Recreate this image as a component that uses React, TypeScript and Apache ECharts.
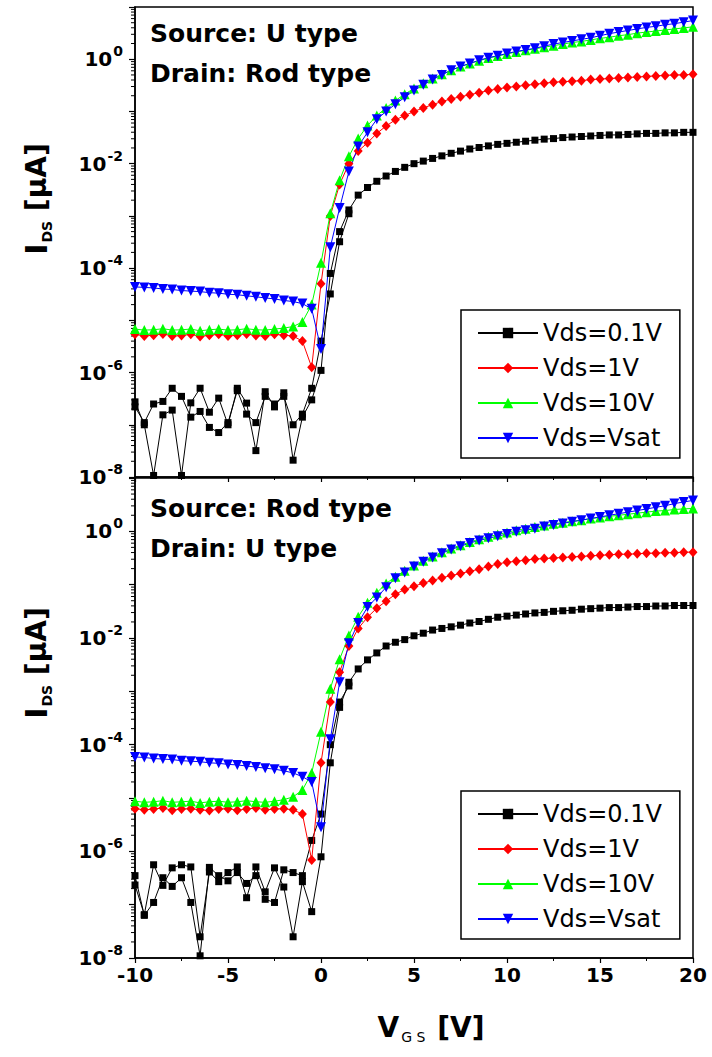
import React, { useEffect, useRef } from "react";
import * as echarts from "echarts";

const vgs = [
  -10, -9.5, -9, -8.5, -8, -7.5, -7, -6.5, -6, -5.5,
  -5, -4.5, -4, -3.5, -3, -2.5, -2, -1.5, -1, -0.5,
  0, 0.5, 1, 1.5, 2, 2.5, 3, 3.5, 4, 4.5,
  5, 5.5, 6, 6.5, 7, 7.5, 8, 8.5, 9, 9.5,
  10, 10.5, 11, 11.5, 12, 12.5, 13, 13.5, 14, 14.5,
  15, 15.5, 16, 16.5, 17, 17.5, 18, 18.5, 19, 19.5,
  20,
];
const vgsReverse = [
  -10, -9.5, -9, -8.5, -8, -7.5, -7, -6.5, -6, -5.5,
  -5, -4.5, -4, -3.5, -3, -2.5, -2, -1.5, -1, -0.5,
  0, 0.5, 1, 1.5,
];

const seriesNames = ["Vds=0.1V", "Vds=1V", "Vds=10V", "Vds=Vsat"];
const xTicks = { min: -10, max: 20, step: 5 };

// Top panel: Source U type / Drain Rod type
const topBlack = [
  2.75e-7, 1.0e-7, 1.07e-8, 1.55e-7, 1.91e-7, 1.07e-8, 2.63e-7, 5.01e-7, 1.74e-7, 3.24e-7,
  1.0e-7, 5.0e-7, 2.6e-7, 3.2e-8, 4.3e-7, 2.2e-7, 4.1e-7, 2.1e-8, 1.4e-7, 3.0e-7,
  1.1e-6, 7.9e-5, 5.0e-4, 1.3e-3, 2.5e-3, 3.5e-3, 4.6e-3, 5.8e-3, 7.1e-3, 8.5e-3,
  1.0e-2, 1.12e-2, 1.26e-2, 1.41e-2, 1.58e-2, 1.74e-2, 1.91e-2, 2.04e-2, 2.19e-2, 2.34e-2,
  2.45e-2, 2.57e-2, 2.69e-2, 2.82e-2, 2.95e-2, 3.02e-2, 3.16e-2, 3.24e-2, 3.31e-2, 3.39e-2,
  3.47e-2, 3.55e-2, 3.55e-2, 3.63e-2, 3.72e-2, 3.8e-2, 3.8e-2, 3.89e-2, 3.89e-2, 3.98e-2,
  3.98e-2,
];
const topBlackReverse = [
  2.2e-7, 1.1e-7, 2.5e-7, 2.8e-7, 5.0e-7, 3.5e-7, 1.4e-7, 1.8e-7, 8.9e-8, 7.1e-8,
  1.1e-7, 4.5e-7, 1.6e-7, 1.1e-7, 3.5e-7, 2.5e-7, 3.5e-7, 1.0e-7, 1.6e-7, 5.0e-7,
  4.0e-6, 3.2e-5, 3.2e-4, 1.1e-3,
];
const topRed = [
  5.4e-6, 5.0e-6, 5.2e-6, 5.5e-6, 5.0e-6, 5.1e-6, 5.4e-6, 4.9e-6, 5.2e-6, 5.4e-6,
  5.0e-6, 5.2e-6, 5.5e-6, 5.1e-6, 5.0e-6, 5.4e-6, 5.2e-6, 5.0e-6, 4.0e-6, 1.26e-6,
  5.0e-5, 1.0e-3, 4.0e-3, 1.0e-2, 1.74e-2, 2.51e-2, 3.8e-2, 5.25e-2, 6.92e-2, 8.32e-2,
  0.1, 0.117, 0.135, 0.155, 0.174, 0.191, 0.209, 0.229, 0.251, 0.269,
  0.288, 0.302, 0.316, 0.331, 0.347, 0.363, 0.372, 0.38, 0.389, 0.407,
  0.417, 0.427, 0.437, 0.447, 0.457, 0.468, 0.479, 0.49, 0.501, 0.501,
  0.513,
];
const topGreen = [
  6.8e-6, 6.5e-6, 6.6e-6, 6.9e-6, 6.5e-6, 6.6e-6, 6.8e-6, 6.3e-6, 6.6e-6, 6.8e-6,
  6.5e-6, 6.6e-6, 6.9e-6, 6.6e-6, 6.5e-6, 6.8e-6, 7.1e-6, 7.6e-6, 9.3e-6, 2.0e-5,
  1.26e-4, 1.12e-3, 4.79e-3, 1.38e-2, 3.02e-2, 5.37e-2, 8.32e-2, 0.117, 0.162, 0.214,
  0.275, 0.347, 0.427, 0.513, 0.617, 0.724, 0.832, 0.933, 1.05, 1.15,
  1.26, 1.38, 1.48, 1.58, 1.7, 1.82, 1.95, 2.09, 2.19, 2.34,
  2.51, 2.63, 2.82, 2.95, 3.16, 3.31, 3.47, 3.63, 3.8, 3.98,
  4.17,
];
const topBlue = [
  4.37e-5, 4.27e-5, 4.17e-5, 3.98e-5, 3.89e-5, 3.72e-5, 3.63e-5, 3.55e-5, 3.39e-5, 3.31e-5,
  3.16e-5, 3.09e-5, 2.95e-5, 2.82e-5, 2.69e-5, 2.57e-5, 2.4e-5, 2.29e-5, 2.09e-5, 1.66e-5,
  2.82e-6, 2.51e-4, 1.41e-3, 7.08e-3, 2.14e-2, 3.98e-2, 7.08e-2, 0.1, 0.138, 0.186,
  0.251, 0.324, 0.407, 0.501, 0.617, 0.724, 0.832, 0.955, 1.07, 1.17,
  1.29, 1.41, 1.51, 1.62, 1.78, 1.95, 2.09, 2.24, 2.4, 2.57,
  2.82, 3.09, 3.31, 3.55, 3.8, 4.07, 4.27, 4.57, 4.79, 5.13,
  5.5,
];

// Bottom panel: Source Rod type / Drain U type
const bottomBlack = [
  2.34e-7, 6.5e-8, 5.6e-7, 2.3e-7, 4.9e-7, 5.6e-7, 5.1e-7, 2.5e-8, 4.1e-7, 2.7e-7,
  4.0e-7, 5.1e-7, 1.35e-7, 5.1e-7, 1.74e-7, 4.9e-7, 2.14e-7, 2.5e-8, 2.7e-7, 7.4e-8,
  7.9e-7, 4.57e-5, 5.0e-4, 1.48e-3, 2.63e-3, 3.89e-3, 5.25e-3, 7.08e-3, 8.32e-3, 9.33e-3,
  1.1e-2, 1.23e-2, 1.41e-2, 1.51e-2, 1.62e-2, 1.74e-2, 1.91e-2, 2.04e-2, 2.24e-2, 2.45e-2,
  2.57e-2, 2.69e-2, 2.82e-2, 2.95e-2, 3.02e-2, 3.16e-2, 3.24e-2, 3.31e-2, 3.47e-2, 3.55e-2,
  3.63e-2, 3.72e-2, 3.72e-2, 3.8e-2, 3.89e-2, 3.89e-2, 3.98e-2, 3.98e-2, 4.07e-2, 4.07e-2,
  4.07e-2,
];
const bottomBlackReverse = [
  3.5e-7, 6.3e-8, 1.1e-7, 3.2e-7, 2.2e-7, 3.2e-7, 1.1e-7, 1.1e-8, 5.0e-7, 3.5e-7,
  2.8e-7, 4.0e-7, 2.5e-7, 3.5e-7, 1.26e-7, 1.1e-7, 4.5e-7, 4.0e-7, 3.5e-7, 1.6e-6,
  5.0e-6, 1.0e-4, 6.3e-4, 1.26e-3,
];
const bottomRed = [
  6.3e-6, 6.0e-6, 6.2e-6, 6.5e-6, 5.9e-6, 6.2e-6, 6.3e-6, 6.0e-6, 5.8e-6, 6.2e-6,
  6.3e-6, 5.9e-6, 6.2e-6, 6.5e-6, 6.0e-6, 6.2e-6, 6.3e-6, 6.0e-6, 5.0e-6, 6.9e-7,
  4.57e-5, 6.31e-4, 2.29e-3, 7.08e-3, 1.51e-2, 2.45e-2, 3.63e-2, 4.9e-2, 6.61e-2, 8.13e-2,
  9.33e-2, 0.107, 0.12, 0.135, 0.148, 0.162, 0.178, 0.195, 0.219, 0.245,
  0.263, 0.275, 0.288, 0.302, 0.309, 0.316, 0.324, 0.331, 0.339, 0.347,
  0.355, 0.363, 0.372, 0.372, 0.38, 0.389, 0.389, 0.398, 0.398, 0.407,
  0.407,
];
const bottomGreen = [
  8.7e-6, 8.3e-6, 8.5e-6, 8.9e-6, 8.3e-6, 8.5e-6, 8.7e-6, 8.1e-6, 8.5e-6, 8.7e-6,
  8.3e-6, 8.5e-6, 8.9e-6, 8.5e-6, 8.3e-6, 8.7e-6, 9.3e-6, 1.05e-5, 1.41e-5, 2.95e-5,
  1.74e-4, 1.12e-3, 3.98e-3, 1.12e-2, 2.51e-2, 4.57e-2, 7.08e-2, 0.105, 0.141, 0.182,
  0.229, 0.282, 0.339, 0.407, 0.479, 0.55, 0.631, 0.708, 0.794, 0.871,
  0.955, 1.05, 1.12, 1.2, 1.29, 1.38, 1.45, 1.55, 1.62, 1.74,
  1.82, 1.91, 2.0, 2.09, 2.19, 2.29, 2.4, 2.45, 2.57, 2.63,
  2.69,
];
const bottomBlue = [
  5.89e-5, 5.75e-5, 5.5e-5, 5.37e-5, 5.25e-5, 5.01e-5, 4.9e-5, 4.79e-5, 4.57e-5, 4.47e-5,
  4.27e-5, 4.17e-5, 3.98e-5, 3.8e-5, 3.63e-5, 3.47e-5, 3.24e-5, 2.95e-5, 2.51e-5, 2.0e-5,
  2.82e-6, 1.26e-4, 1.48e-3, 7.94e-3, 1.91e-2, 3.8e-2, 5.75e-2, 8.91e-2, 0.132, 0.17,
  0.219, 0.269, 0.324, 0.389, 0.457, 0.525, 0.603, 0.676, 0.741, 0.813,
  0.891, 0.977, 1.05, 1.12, 1.23, 1.32, 1.41, 1.51, 1.62, 1.74,
  1.86, 2.0, 2.14, 2.29, 2.45, 2.63, 2.82, 3.02, 3.31, 3.55,
  3.8,
];

const FONT = '"DejaVu Sans", "Liberation Sans", Arial, sans-serif';

const pairs = (xs: number[], ys: number[]) => ys.map((y, i) => [xs[i], y]);

const styles = [
  { color: "#000000", symbol: "rect", size: 7, rotate: 0 },
  { color: "#ff0000", symbol: "diamond", size: [9, 10], rotate: 0 },
  { color: "#00ff00", symbol: "triangle", size: 10, rotate: 0 },
  { color: "#0000ff", symbol: "triangle", size: 10, rotate: 180 },
];

function makeSeries(panel: number, data: number[][][]) {
  return data.map((d, k) => ({
    name: seriesNames[k],
    type: "line",
    xAxisIndex: panel,
    yAxisIndex: panel,
    data: d,
    symbol: styles[k].symbol,
    symbolSize: styles[k].size,
    symbolRotate: styles[k].rotate,
    itemStyle: { color: styles[k].color },
    lineStyle: { color: styles[k].color, width: 1 },
    emphasis: { disabled: true },
  }));
}

function reverseSeries(panel: number, ys: number[]) {
  return {
    name: seriesNames[0],
    type: "line",
    xAxisIndex: panel,
    yAxisIndex: panel,
    data: pairs(vgsReverse, ys),
    symbol: "rect",
    symbolSize: 7,
    itemStyle: { color: "#000" },
    lineStyle: { color: "#000", width: 1 },
    emphasis: { disabled: true },
    z: 1,
  };
}

const yLabelFormatter = (v: number) => {
  const e = Math.round(Math.log10(v));
  if (e % 2 !== 0) return "";
  return "{b|10}{s|" + e + "}";
};

function xAxis(panel: number, showLabel: boolean) {
  return {
    type: "value",
    gridIndex: panel,
    min: xTicks.min,
    max: xTicks.max,
    interval: xTicks.step,
    axisLine: { show: true, onZero: false, lineStyle: { color: "#000", width: 1.5 } },
    axisTick: { show: true, inside: false, length: 5, lineStyle: { color: "#000", width: 1.2 } },
    minorTick: { show: true, splitNumber: 2, length: 3, lineStyle: { color: "#000", width: 1 } },
    splitLine: { show: false },
    axisLabel: {
      show: showLabel,
      margin: 7,
      color: "#000",
      fontFamily: FONT,
      fontWeight: "bold",
      fontSize: 20,
    },
  };
}

function yAxis(panel: number) {
  return {
    type: "log",
    logBase: 10,
    gridIndex: panel,
    min: 1e-8,
    max: 10,
    interval: 1,
    splitNumber: 9,
    axisLine: { show: true, onZero: false, lineStyle: { color: "#000", width: 1.5 } },
    axisTick: { show: true, inside: false, length: 6, lineStyle: { color: "#000", width: 1.2 } },
    splitLine: { show: false },
    minorTick: { show: false },
    axisLabel: {
      margin: 12,
      formatter: yLabelFormatter,
      rich: {
        b: { fontFamily: FONT, fontWeight: "bold", fontSize: 20, color: "#000" },
        s: { fontFamily: FONT, fontWeight: "bold", fontSize: 14, color: "#000", padding: [0, 0, 16, 1] },
      },
    },
  };
}

function legend(top: number) {
  return {
    show: true,
    orient: "vertical",
    left: 461,
    top,
    data: seriesNames,
    selectedMode: false,
    itemWidth: 60,
    itemHeight: 13,
    itemGap: 7,
    padding: [9, 18, 6, 16],
    borderColor: "#000",
    borderWidth: 1.5,
    backgroundColor: "#fff",
    textStyle: { fontFamily: FONT, fontSize: 24, lineHeight: 28, color: "#000" },
  };
}

export default function App() {
  const ref = useRef<HTMLDivElement>(null);
  useEffect(() => {
    document.body.style.margin = "0";
    const chart = echarts.init(ref.current as HTMLDivElement, null, { renderer: "svg" });
    const option: any = {
      animation: false,
      backgroundColor: "#fff",
      grid: [
        { left: 135, top: 7, width: 558, height: 470, show: true, borderColor: "#000", borderWidth: 1.5 },
        { left: 135, top: 478, width: 558, height: 480, show: true, borderColor: "#000", borderWidth: 1.5 },
      ],
      xAxis: [xAxis(0, false), xAxis(1, true)],
      yAxis: [yAxis(0), yAxis(1)],
      legend: [legend(310), legend(791)],
      series: [
        reverseSeries(0, topBlackReverse),
        ...makeSeries(0, [
          pairs(vgs, topBlack),
          pairs(vgs, topRed),
          pairs(vgs, topGreen),
          pairs(vgs, topBlue),
        ]),
        reverseSeries(1, bottomBlackReverse),
        ...makeSeries(1, [
          pairs(vgs, bottomBlack),
          pairs(vgs, bottomRed),
          pairs(vgs, bottomGreen),
          pairs(vgs, bottomBlue),
        ]),
      ],
    };
    chart.setOption(option);

    const graphics: any[] = [];
    const annot = (text: string, x: number, y: number) => ({
      type: "text",
      x,
      y,
      silent: true,
      style: {
        text,
        fill: "#000",
        font: "bold 25px " + FONT,
        align: "left",
        verticalAlign: "middle",
      },
    });
    graphics.push(annot("Source: U type", 150, 33));
    graphics.push(annot("Drain: Rod type", 150, 73));
    graphics.push(annot("Source: Rod type", 150, 508));
    graphics.push(annot("Drain: U type", 150, 548));

    const yTitle = (cy: number) => ({
      type: "text",
      x: 36,
      y: cy,
      rotation: Math.PI / 2,
      silent: true,
      style: {
        text: "{i|I}{s|DS}{b| [µA]}",
        align: "center",
        verticalAlign: "middle",
        rich: {
          i: { fontFamily: FONT, fontWeight: "bold", fontSize: 30, fill: "#000" },
          s: { fontFamily: FONT, fontWeight: "bold", fontSize: 14, fill: "#000", padding: [22, 0, 0, 1] },
          b: { fontFamily: FONT, fontWeight: "bold", fontSize: 28, fill: "#000" },
        },
      },
    });
    graphics.push(yTitle(199));
    graphics.push(yTitle(663));

    graphics.push({
      type: "text",
      x: 431,
      y: 1027,
      silent: true,
      style: {
        text: "{v|V}{s|G S}{v| [V]}",
        align: "center",
        verticalAlign: "middle",
        rich: {
          v: { fontFamily: FONT, fontWeight: "bold", fontSize: 28, fill: "#000" },
          s: { fontFamily: FONT, fontSize: 14, fill: "#000", padding: [20, 2, 0, 2] },
        },
      },
    });

    // logarithmic minor ticks (2..9 per decade), placed by the axis scale
    for (let p = 0; p < 2; p++) {
      const ax = chart.convertToPixel({ xAxisIndex: p } as any, xTicks.min) as number;
      for (let e = -8; e < 1; e++) {
        for (let k = 2; k <= 9; k++) {
          const py = chart.convertToPixel({ yAxisIndex: p } as any, k * Math.pow(10, e)) as number;
          graphics.push({
            type: "line",
            silent: true,
            shape: { x1: ax - 4, y1: py, x2: ax, y2: py },
            style: { stroke: "#000", lineWidth: 1 },
          });
        }
      }
    }
    chart.setOption({ graphic: graphics });
    return () => chart.dispose();
  }, []);
  return <div ref={ref} style={{ width: 712, height: 1057 }} />;
}
